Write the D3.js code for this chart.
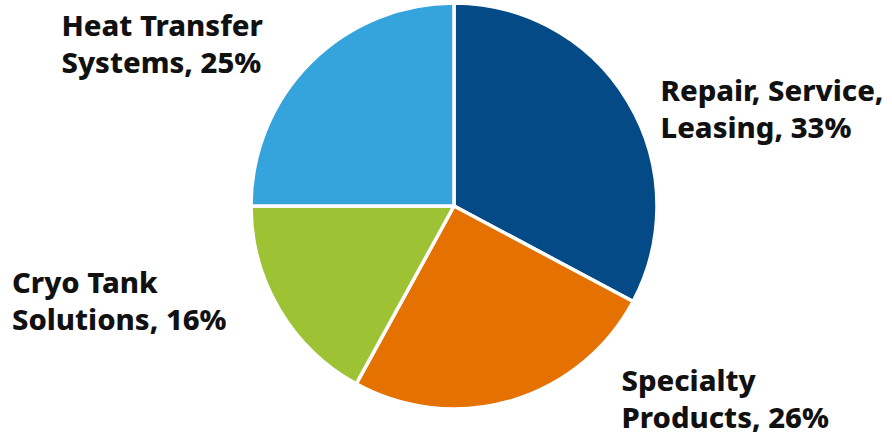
<!DOCTYPE html>
<html>
<head>
<meta charset="utf-8">
<script src="https://cdn.jsdelivr.net/npm/d3@7"></script>
<style>
    body { margin: 0; background: #fff; }
    svg { display: block; }
    .lbl { font-family: "Noto Sans", "Open Sans", sans-serif; font-weight: 800; font-size: 29.2px; fill: #111; }
</style>
</head>
<body>
<div id="chart"></div>
<script>
// segment names, slice sizes as drawn, and the percentages printed in the labels
const segments = ["Repair, Service, Leasing", "Specialty Products", "Cryo Tank Solutions", "Heat Transfer Systems"]
const sliceValues = [32.8, 25.2, 17, 25]
const labelPercents = [33, 26, 16, 25]
const labelLines = [
    ["Repair, Service,", "Leasing, "],
    ["Specialty", "Products, "],
    ["Cryo Tank", "Solutions, "],
    ["Heat Transfer", "Systems, "],
]
const colours = ["#034a87", "#e57200", "#9dc234", "#35a4dc"]

const width = 892
const height = 434
const cx = 454
const cy = 206
const radius = 203

const svg = d3.select("#chart")
    .append("svg")
    .attr("width", width)
    .attr("height", height)

const data = segments.map((name, i) => ({
    name: name,
    value: sliceValues[i],
    pct: labelPercents[i],
    lines: labelLines[i],
    colour: colours[i],
}))

const pie = d3.pie().sort(null).value((d) => d.value)
const arc = d3.arc().innerRadius(0).outerRadius(radius)

const g = svg.append("g").attr("transform", "translate(" + cx + "," + cy + ")")

g.selectAll("path")
    .data(pie(data))
    .enter()
    .append("path")
    .attr("d", arc)
    .attr("fill", (d) => d.data.colour)
    .attr("stroke", "#fff")
    .attr("stroke-width", 3.5)
    .attr("stroke-linejoin", "round")

// label anchor points (left edge, first baseline)
const labelPos = [
    [660.5, 101],
    [621.5, 391],
    [12, 293],
    [61.5, 36],
]
const lineHeight = 37

const labels = svg.append("g")
data.forEach((d, i) => {
    const t = labels.append("text")
        .attr("class", "lbl")
        .attr("x", labelPos[i][0])
        .attr("y", labelPos[i][1])
    t.append("tspan").attr("x", labelPos[i][0]).attr("dy", 0).text(d.lines[0])
    t.append("tspan").attr("x", labelPos[i][0]).attr("dy", lineHeight).text(d.lines[1] + d.pct + "%")
})
</script>
</body>
</html>
